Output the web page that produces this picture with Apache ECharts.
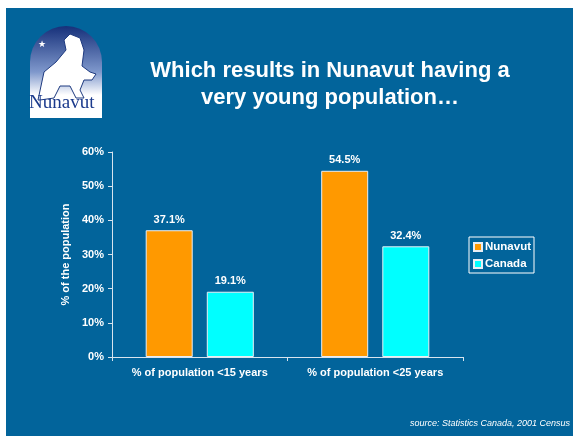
<!DOCTYPE html>
<html><head><meta charset="utf-8">
<script src="https://cdn.jsdelivr.net/npm/echarts@6/dist/echarts.min.js"></script>
<style>html,body{margin:0;padding:0;background:#fff}#c{width:573px;height:436px}</style>
</head><body><div id="c"></div>
<script>
const categories = ['% of population <15 years', '% of population <25 years'];
const nunavut = [37.1, 54.5];
const canada = [19.1, 32.4];
const yTicks = [0, 10, 20, 30, 40, 50, 60];

const chart = echarts.init(document.getElementById('c'), null, {renderer: 'canvas'});
const font = 'Liberation Sans, Arial, sans-serif';
const bg = '#02649b';
const barLabel = {show: true, position: 'top', distance: 5, color: '#fff', fontWeight: 'bold', fontSize: 11, fontFamily: font,
  formatter: p => p.value.toFixed(1) + '%'};

chart.setOption({
  backgroundColor: '#ffffff',
  animation: false,
  graphic: [
    {type: 'rect', shape: {x: 6, y: 8, width: 567, height: 428}, style: {fill: bg}, z: -10},
    // logo arch
    {type: 'rect', shape: {x: 30, y: 26, width: 72, height: 92, r: [36, 36, 0, 0]},
      style: {fill: new echarts.graphic.LinearGradient(0, 0, 0, 1, [
        {offset: 0, color: '#16307a'}, {offset: 0.5, color: '#7f98cc'}, {offset: 0.75, color: '#ffffff'}, {offset: 1, color: '#ffffff'}])}, z: -5},
    {type: 'polygon', shape: {points: [[38,100],[44,72],[56,62],[66,50],[64,40],[70,34],[80,38],[84,50],[82,66],[90,72],[96,74],[92,80],[84,80],[80,90],[84,98],[76,98],[70,86],[60,86],[54,98],[40,100]]},
      style: {fill: '#ffffff', stroke: '#1e3a80', lineWidth: 1}, z: -4},
    {type: 'text', left: 38, top: 40, style: {text: '★', fill: '#ffffff', fontSize: 9}, z: -3},
    {type: 'text', left: 29, top: 94, style: {text: 'Nunavut', fill: '#1b3a8c', font: '19px "Liberation Serif", "DejaVu Serif", serif'}, z: -3},
    // title
    {type: 'text', x: 330, y: 57, style: {text: 'Which results in Nunavut having a\nvery young population\u2026',
      fill: '#ffffff', font: 'bold 22px ' + font, textAlign: 'center', align: 'center', lineHeight: 27}},
    // source
    {type: 'text', right: 3, top: 419, style: {text: 'source: Statistics Canada, 2001 Census', fill: '#ffffff', font: 'italic 9px ' + font}}
  ],
  grid: {left: 112, right: 110, top: 152, bottom: 79, containLabel: false},
  legend: {
    orient: 'vertical', left: 469, top: 237, padding: [4, 3, 3, 4],
    borderColor: '#ffffff', borderWidth: 1, backgroundColor: bg,
    itemWidth: 8, itemHeight: 8, itemGap: 5, icon: 'rect',
    textStyle: {color: '#ffffff', fontWeight: 'bold', fontSize: 11.5, fontFamily: font, padding: [0, 0, 0, -2]},
    data: ['Nunavut', 'Canada']
  },
  xAxis: {
    type: 'category', data: categories,
    axisLine: {lineStyle: {color: '#d8e4ee', width: 1}},
    axisTick: {show: true, length: 4, lineStyle: {color: '#d8e4ee'}},
    axisLabel: {color: '#ffffff', fontWeight: 'bold', fontSize: 11, fontFamily: font, margin: 10, interval: 0}
  },
  yAxis: {
    type: 'value', min: 0, max: 60, interval: 10,
    name: '% of the population', nameLocation: 'middle', nameGap: 40, nameRotate: 90,
    nameTextStyle: {color: '#ffffff', fontWeight: 'bold', fontSize: 11, fontFamily: font},
    axisLine: {show: true, lineStyle: {color: '#d8e4ee', width: 1}},
    axisTick: {show: true, length: 4, lineStyle: {color: '#d8e4ee'}},
    splitLine: {show: false},
    axisLabel: {color: '#ffffff', fontWeight: 'bold', fontSize: 11, fontFamily: font, margin: 8,
      formatter: v => yTicks.includes(v) ? v + '%' : ''}
  },
  series: [
    {name: 'Nunavut', type: 'bar', data: nunavut, barWidth: 47, barGap: '30%',
      itemStyle: {color: '#ff9900', borderColor: '#e8eef4', borderWidth: 1}, label: barLabel},
    {name: 'Canada', type: 'bar', data: canada, barWidth: 47,
      itemStyle: {color: '#00ffff', borderColor: '#e8eef4', borderWidth: 1}, label: barLabel}
  ]
});
</script></body></html>
